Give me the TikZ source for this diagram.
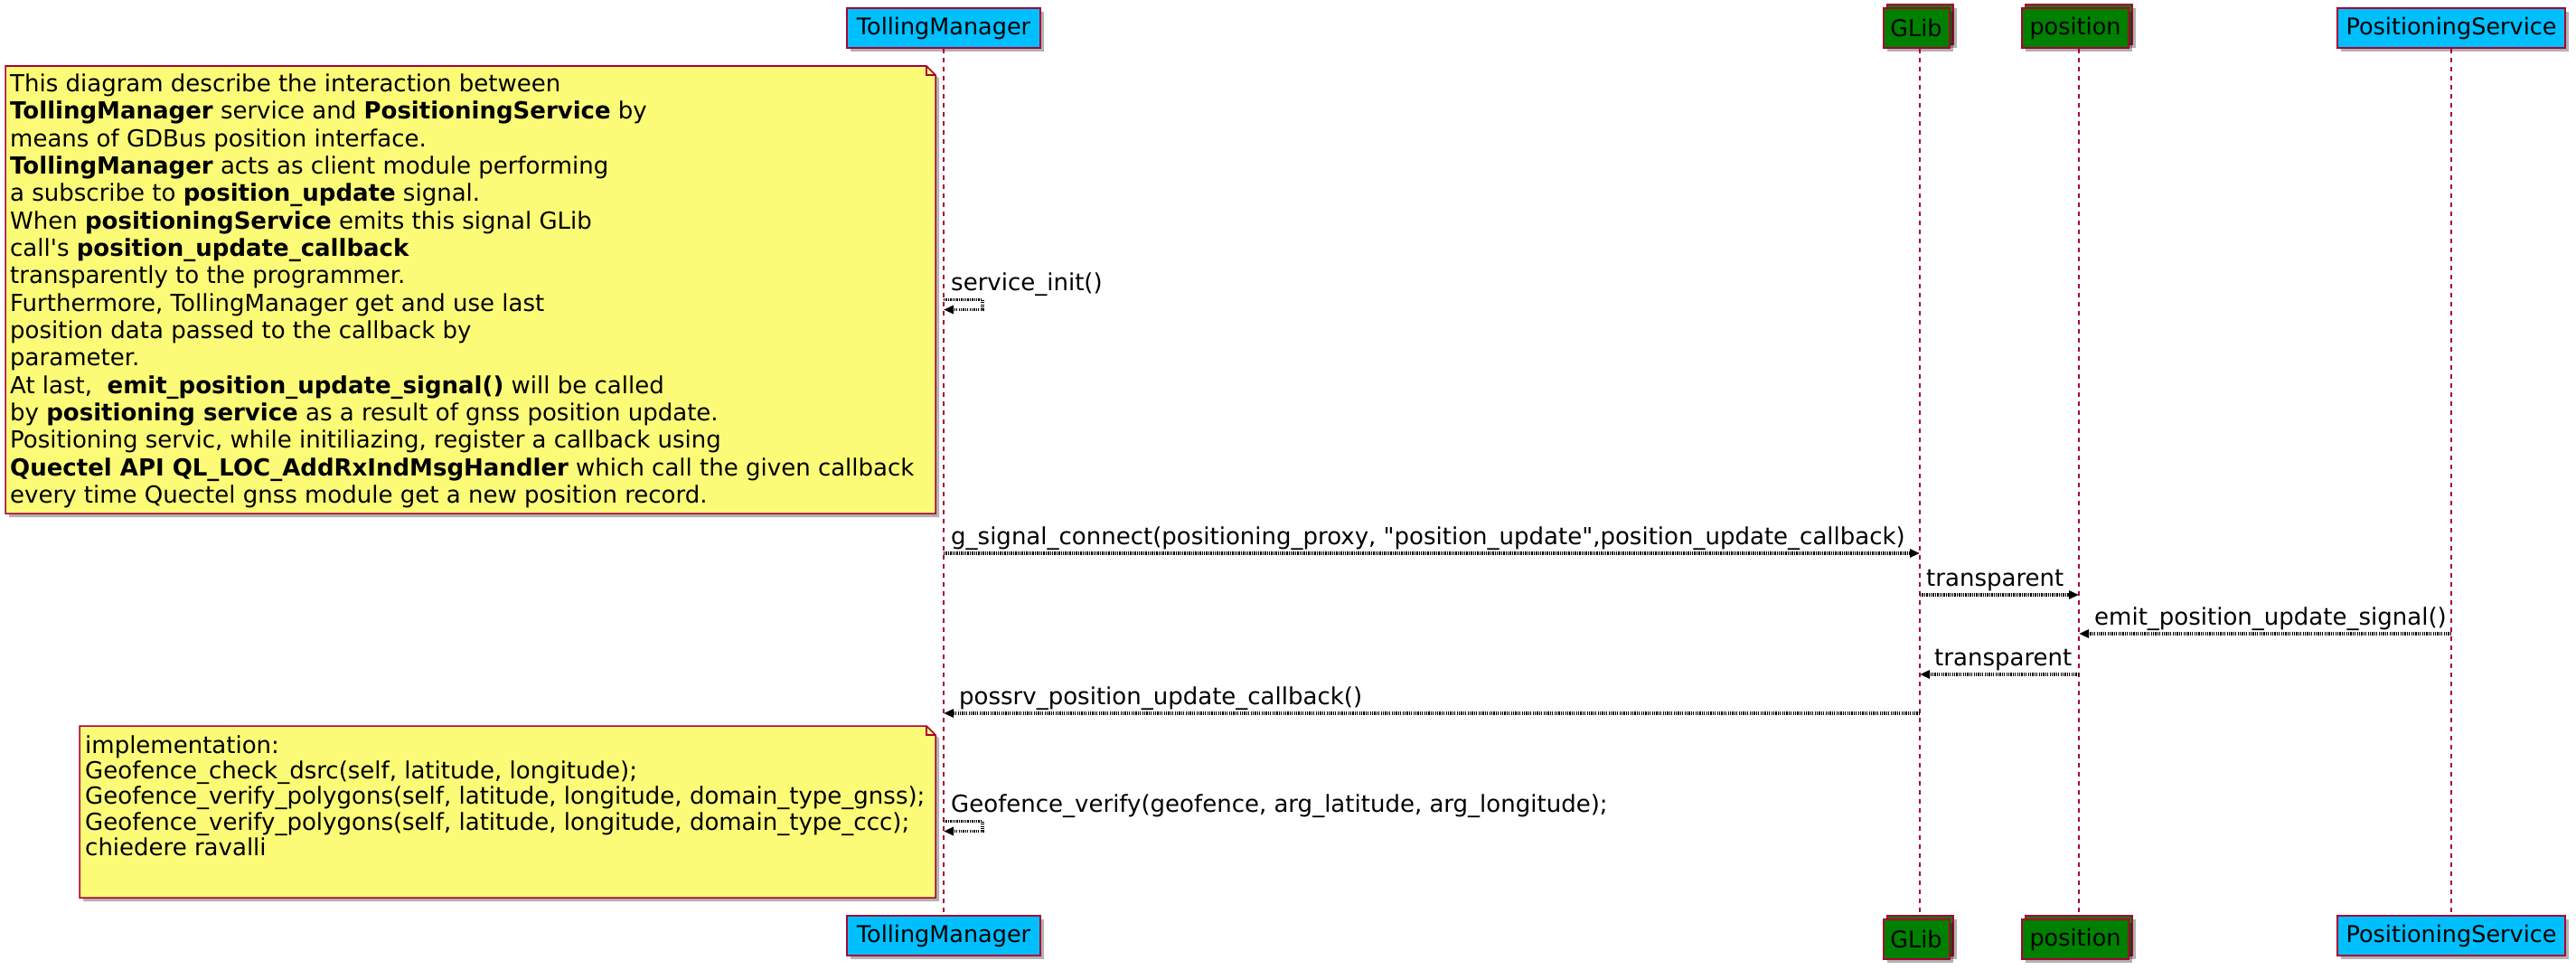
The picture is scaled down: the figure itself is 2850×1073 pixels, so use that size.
\documentclass[tikz,border=0pt]{standalone}
\usepackage{fontspec}
\setmainfont{DejaVu Sans}
\usetikzlibrary{arrows.meta,shadows}
\definecolor{umlborder}{HTML}{A80036}
\definecolor{partblue}{HTML}{00BFFF}
\definecolor{partgreen}{HTML}{008000}
\definecolor{notefill}{HTML}{FBFB77}
\begin{document}
\begin{tikzpicture}[x=1pt,y=-1pt,
  shad/.style={drop shadow={shadow xshift=4pt,shadow yshift=-4pt,opacity=0.3,fill=black}},
  part/.style={shad,draw=umlborder,line width=2pt,fill=partblue,minimum height=44pt,inner sep=0pt,font=\fontsize{25.5}{30}\selectfont},
  coll/.style={part,fill=partgreen},
  lifeline/.style={draw=umlborder,line width=1.1pt,dash pattern=on 5pt off 5pt},
  notebox/.style={shad,draw=umlborder,line width=1.5pt,fill=notefill},
  txt/.style={font=\fontsize{26}{30}\selectfont,inner sep=0pt,anchor=base west},
  msg/.style={draw=black,line width=3.4pt,dash pattern=on 1.3pt off 1.1pt,-{Triangle[length=11pt,width=9pt]}}
]
\useasboundingbox (0,0) rectangle (2850,1073);
% participants top
\node[part,minimum width=214pt] (tmT) at (1044,31) {TollingManager};
\node[coll,minimum width=73pt] (glibTb) at (2124,27) {};
\node[coll,minimum width=73pt] (glibT) at (2120,31) {GLib};
\node[coll,minimum width=118pt] (posTb) at (2300,27) {};
\node[coll,minimum width=118pt] (posT) at (2296,31) {position};
\node[part,minimum width=252pt] (psT) at (2712,31) {PositioningService};
% participants bottom
\node[part,minimum width=214pt] (tmB) at (1044,1035) {TollingManager};
\node[coll,minimum width=73pt] (glibBb) at (2124,1035) {};
\node[coll,minimum width=73pt] (glibB) at (2120,1039) {GLib};
\node[coll,minimum width=118pt] (posBb) at (2300,1035) {};
\node[coll,minimum width=118pt] (posB) at (2296,1039) {position};
\node[part,minimum width=252pt] (psB) at (2712,1035) {PositioningService};
% lifelines
\draw[lifeline] (tmT.south) -- (tmB.north);
\draw[lifeline] (glibTb.south |- glibT.south) -- (glibBb.north);
\draw[lifeline] (posTb.south |- posT.south) -- (posBb.north);
\draw[lifeline] (psT.south) -- (psB.north);
% note 1
\draw[notebox] (6,73) -- (1025,73) -- (1035,83) -- (1035,568) -- (6,568) -- cycle;
\draw[draw=umlborder,line width=1.5pt] (1025,73) -- (1025,83) -- (1035,83);
\node[txt] (n1) at (11,101.5) {This diagram describe the interaction between};
\node[txt] (n2) at (11,131.8) {\textbf{TollingManager} service and \textbf{PositioningService} by};
\node[txt] (n3) at (11,162.2) {means of GDBus position interface.};
\node[txt] (n4) at (11,192.5) {\textbf{TollingManager} acts as client module performing};
\node[txt] (n5) at (11,222.8) {a subscribe to \textbf{position\_update} signal.};
\node[txt] (n6) at (11,253.2) {When \textbf{positioningService} emits this signal GLib};
\node[txt] (n7) at (11,283.5) {call\textquotesingle s \textbf{position\_update\_callback}};
\node[txt] (n8) at (11,313.8) {transparently to the programmer.};
\node[txt] (n9) at (11,344.1) {Furthermore, TollingManager get and use last};
\node[txt] (n10) at (11,374.5) {position data passed to the callback by};
\node[txt] (n11) at (11,404.8) {parameter.};
\node[txt] (n12) at (11,435.1) {At last,\ \ \textbf{emit\_position\_update\_signal()} will be called};
\node[txt] (n13) at (11,465.5) {by \textbf{positioning service} as a result of gnss position update.};
\node[txt] (n14) at (11,495.8) {Positioning servic, while initiliazing, register a callback using};
\node[txt] (n15) at (11,526.1) {\textbf{Quectel API QL\_LOC\_AddRxIndMsgHandler} which call the given callback};
\node[txt] (n16) at (11,556.5) {every time Quectel gnss module get a new position record.};
% note 2
\draw[notebox] (88,803) -- (1025,803) -- (1035,813) -- (1035,993) -- (88,993) -- cycle;
\draw[draw=umlborder,line width=1.5pt] (1025,803) -- (1025,813) -- (1035,813);
\node[txt] (g1) at (94,833) {implementation:};
\node[txt] (g2) at (94,861.3) {Geofence\_check\_dsrc(self, latitude, longitude);};
\node[txt] (g3) at (94,889.7) {Geofence\_verify\_polygons(self, latitude, longitude, domain\_type\_gnss);};
\node[txt] (g4) at (94,918) {Geofence\_verify\_polygons(self, latitude, longitude, domain\_type\_ccc);};
\node[txt] (g5) at (94,946.3) {chiedere ravalli};
% message anchor points on lifelines
\coordinate (s1a) at (1044,331.5);
\coordinate (s1b) at (1087,331.5);
\coordinate (s1c) at (1087,342.5);
\coordinate (s1d) at (1044,342.5);
\coordinate (m1a) at (1044,612);
\coordinate (m1b) at (2124,612);
\coordinate (m2a) at (2124,658);
\coordinate (m2b) at (2300,658);
\coordinate (m3a) at (2712,701);
\coordinate (m3b) at (2300,701);
\coordinate (m4a) at (2300,746);
\coordinate (m4b) at (2124,746);
\coordinate (m5a) at (2124,789);
\coordinate (m5b) at (1044,789);
\coordinate (s2a) at (1044,908.5);
\coordinate (s2b) at (1087,908.5);
\coordinate (s2c) at (1087,919.5);
\coordinate (s2d) at (1044,919.5);
% messages
\draw[msg] (s1a) -- (s1b) -- (s1c) -- (s1d);
\node[txt] (l1) at (1052,321) {service\_init()};
\draw[msg] (m1a) -- (m1b);
\node[txt] (l2) at (1052,602.5) {g\_signal\_connect(positioning\_proxy, \textquotedbl position\_update\textquotedbl,position\_update\_callback)};
\draw[msg] (m2a) -- (m2b);
\node[txt] (l3) at (2131,648) {transparent};
\draw[msg] (m3a) -- (m3b);
\node[txt] (l4) at (2317,691.5) {emit\_position\_update\_signal()};
\draw[msg] (m4a) -- (m4b);
\node[txt] (l5) at (2140,736) {transparent};
\draw[msg] (m5a) -- (m5b);
\node[txt] (l6) at (1061,779.5) {possrv\_position\_update\_callback()};
\draw[msg] (s2a) -- (s2b) -- (s2c) -- (s2d);
\node[txt] (l7) at (1052,898) {Geofence\_verify(geofence, arg\_latitude, arg\_longitude);};
\end{tikzpicture}
\end{document}
